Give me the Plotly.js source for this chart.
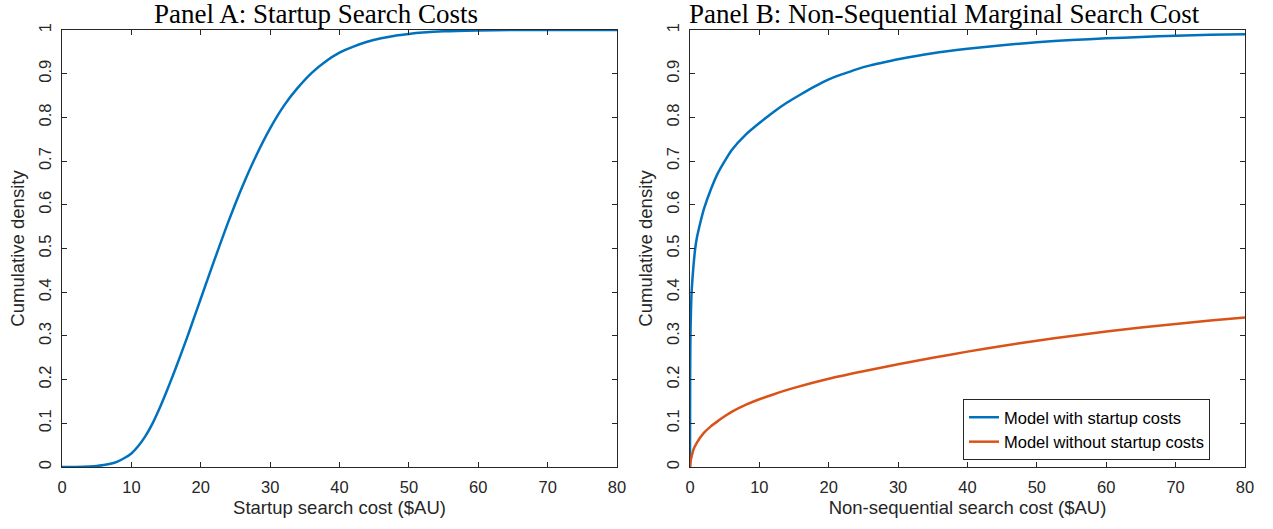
<!DOCTYPE html>
<html>
<head>
<meta charset="utf-8">
<script src="https://cdn.plot.ly/plotly-3.0.1.min.js"></script>
<style>html,body{margin:0;padding:0;background:#fff;}#chart{width:1273px;height:529px;}</style>
</head>
<body>
<div id="chart"></div>
<script>
// Panel A: startup search cost CDF
const startupCost = [0, 2, 4, 5, 6, 7, 8, 9, 10, 11, 12, 13, 14, 15, 16, 17, 18, 19, 20, 22, 24, 26, 28, 30, 32, 34, 36, 38, 40, 42, 44, 46, 48, 50, 52, 55, 60, 65, 70, 80];
const startupCdf  = [0, 0, 0.001, 0.0022, 0.0045, 0.0075, 0.0125, 0.0205, 0.031, 0.048, 0.07, 0.098, 0.132, 0.17, 0.21, 0.252, 0.295, 0.34, 0.385, 0.475, 0.562, 0.642, 0.713, 0.775, 0.827, 0.868, 0.902, 0.928, 0.948, 0.962, 0.973, 0.981, 0.987, 0.991, 0.994, 0.997, 0.999, 1.0, 1.0, 1.0];

// Panel B: non-sequential marginal search cost CDFs
const withCost = [0, 0.02, 0.05, 0.1, 0.2, 0.35, 0.5, 0.75, 1, 1.5, 2, 3, 4, 5, 6, 8, 10, 12, 14, 16, 18, 20, 22, 24, 26, 28, 30, 35, 40, 45, 50, 55, 60, 65, 70, 75, 80];
const withCdf  = [0, 0.2, 0.28, 0.33, 0.39, 0.43, 0.46, 0.50, 0.525, 0.56, 0.59, 0.635, 0.672, 0.70, 0.725, 0.76, 0.787, 0.812, 0.834, 0.853, 0.871, 0.887, 0.899, 0.910, 0.919, 0.926, 0.933, 0.947, 0.957, 0.965, 0.972, 0.977, 0.981, 0.984, 0.987, 0.989, 0.990];

const withoutCost = [0, 0.1, 0.25, 0.5, 1, 2, 3, 4, 5, 6, 8, 10, 12, 15, 20, 25, 30, 35, 40, 45, 50, 55, 60, 65, 70, 75, 80];
const withoutCdf  = [0, 0.015, 0.025, 0.04, 0.056, 0.078, 0.093, 0.105, 0.116, 0.126, 0.142, 0.155, 0.166, 0.181, 0.202, 0.219, 0.235, 0.25, 0.264, 0.277, 0.289, 0.300, 0.310, 0.319, 0.327, 0.335, 0.342];

const xTicks = [0, 10, 20, 30, 40, 50, 60, 70, 80];
const yTicks = [0, 0.1, 0.2, 0.3, 0.4, 0.5, 0.6, 0.7, 0.8, 0.9, 1];
const yTickText = ['0', '0.1', '0.2', '0.3', '0.4', '0.5', '0.6', '0.7', '0.8', '0.9', '1'];

const panelTitles = ['Panel A: Startup Search Costs', 'Panel B: Non-Sequential Marginal Search Cost'];
const xTitles = ['Startup search cost ($AU)', 'Non-sequential search cost ($AU)'];
const yTitle = 'Cumulative density';
const seriesNames = ['Model with startup costs', 'Model without startup costs'];

const BLUE = '#0072BD', ORANGE = '#D95319', AX = '#262626';
const SANS = 'Liberation Sans, Arial, sans-serif';
const tickFont = {family: SANS, size: 16.5, color: AX};

const traces = [
  {x: startupCost, y: startupCdf, xaxis: 'x', yaxis: 'y', type: 'scatter', mode: 'lines',
   line: {color: BLUE, width: 2.5, shape: 'spline', smoothing: 0.8}, showlegend: false},
  {x: withCost, y: withCdf, xaxis: 'x2', yaxis: 'y2', type: 'scatter', mode: 'lines', name: seriesNames[0],
   line: {color: BLUE, width: 2.5, shape: 'spline', smoothing: 0.6}},
  {x: withoutCost, y: withoutCdf, xaxis: 'x2', yaxis: 'y2', type: 'scatter', mode: 'lines', name: seriesNames[1],
   line: {color: ORANGE, width: 2.5, shape: 'spline', smoothing: 0.6}}
];

function xa(domain, anchor, title) {
  return {domain: domain, anchor: anchor, range: [0, 80], tickvals: xTicks, ticks: 'inside', ticklen: 5,
    tickcolor: AX, tickwidth: 1, showline: true, linecolor: AX, linewidth: 1, mirror: 'ticks',
    showgrid: false, zeroline: false, tickfont: tickFont, automargin: false, ticklabelstandoff: 5,
    title: {text: title, font: {family: SANS, size: 18.5, color: AX}, standoff: 6}};
}
function ya(domain, anchor) {
  return {domain: domain, anchor: anchor, range: [0, 1], tickvals: yTicks, ticktext: yTickText, ticks: 'inside', ticklen: 5,
    tickcolor: AX, tickwidth: 1, showline: true, linecolor: AX, linewidth: 1, mirror: 'ticks',
    showgrid: false, zeroline: false, tickfont: tickFont, tickangle: -90, automargin: false, ticklabelstandoff: 3,
    title: {text: yTitle, font: {family: SANS, size: 18.5, color: AX}, standoff: 6}};
}

const yDom = [62/529, 499/529];
const layout = {
  width: 1273, height: 529,
  margin: {l: 0, r: 0, t: 0, b: 0},
  paper_bgcolor: '#fff', plot_bgcolor: '#fff',
  xaxis: xa([62/1273, 617/1273], 'y', xTitles[0]),
  yaxis: ya(yDom, 'x'),
  xaxis2: xa([690/1273, 1245/1273], 'y2', xTitles[1]),
  yaxis2: ya(yDom, 'x2'),
  showlegend: true,
  legend: {x: 963/1273, y: (529-399)/529, xanchor: 'left', yanchor: 'top',
    bgcolor: '#fff', bordercolor: AX, borderwidth: 1,
    font: {family: SANS, size: 16.5, color: '#000'}, tracegroupgap: 0},
  annotations: panelTitles.map((t, i) => ({
    text: t, xref: 'paper', yref: 'paper',
    x: i === 0 ? 316/1273 : 944/1273, y: (529-14)/529,
    xanchor: 'center', yanchor: 'middle', showarrow: false,
    font: {family: 'Liberation Serif, Times New Roman, serif', size: 27, color: '#000'}
  }))
};

Plotly.newPlot('chart', traces, layout, {staticPlot: true, displayModeBar: false});
</script>
</body>
</html>
